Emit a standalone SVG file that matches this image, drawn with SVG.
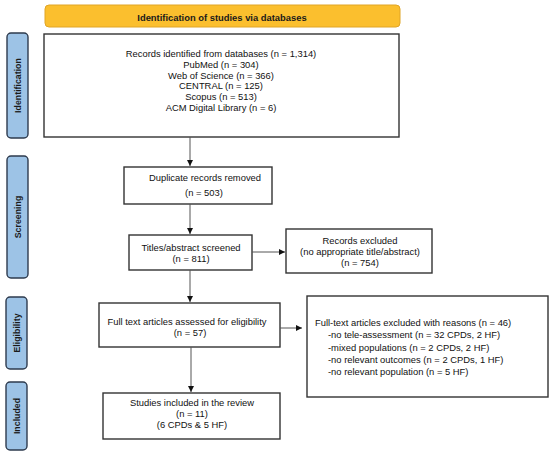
<svg xmlns="http://www.w3.org/2000/svg" width="550" height="455" viewBox="0 0 550 455">
<defs>
<marker id="ah" viewBox="0 0 10 10" refX="10" refY="5" markerWidth="6" markerHeight="6" markerUnits="userSpaceOnUse" orient="auto">
<path d="M0,0 L10,5 L0,10 z" fill="#111"/>
</marker>
<style>
.box{fill:#fff;stroke:#333;stroke-width:1.4}
.side{fill:#9dc3e6;stroke:#2e3b4e;stroke-width:1.4}
.t{font-family:"Liberation Sans",Arial,sans-serif;font-size:9.4px;fill:#111}
.c{text-anchor:middle}
.b{font-weight:bold;fill:#1a1a1a}
.s{font-size:8.8px}
.ln{stroke:#555;stroke-width:1;fill:none;marker-end:url(#ah)}
</style>
</defs>
<rect width="550" height="455" fill="#fff"/>
<g id="banner">
<rect x="45" y="5" width="355" height="22" rx="4" fill="#fbbf2e" stroke="#e0a526" stroke-width="1"/>
<text class="t c b" x="222" y="20.5">Identification of studies via databases</text>
</g>
<g id="side-identification">
<rect class="side" x="7" y="33" width="21" height="105" rx="4"/>
<text class="t c b s" transform="translate(21,85.5) rotate(-90)">Identification</text>
</g>
<g id="side-screening">
<rect class="side" x="7" y="156" width="21" height="122" rx="4"/>
<text class="t c b s" transform="translate(21,217) rotate(-90)">Screening</text>
</g>
<g id="side-eligibility">
<rect class="side" x="6" y="297" width="21" height="72" rx="4"/>
<text class="t c b s" transform="translate(20,333) rotate(-90)">Eligibility</text>
</g>
<g id="side-included">
<rect class="side" x="6" y="382" width="21" height="68" rx="4"/>
<text class="t c b s" transform="translate(20,416) rotate(-90)">Included</text>
</g>
<g id="identified">
<rect class="box" x="44" y="34" width="355" height="103"/>
<text class="t c" x="221" y="57">Records identified from databases (n = 1,314)</text>
<text class="t c" x="221" y="67.8">PubMed (n = 304)</text>
<text class="t c" x="221" y="78.6">Web of Science (n = 366)</text>
<text class="t c" x="221" y="89.4">CENTRAL (n = 125)</text>
<text class="t c" x="221" y="100.2">Scopus (n = 513)</text>
<text class="t c" x="221" y="111">ACM Digital Library (n = 6)</text>
</g>
<g id="duplicates">
<rect class="box" x="124" y="167" width="148" height="37"/>
<text class="t c" x="205" y="181">Duplicate records removed</text>
<text class="t c" x="204" y="196">(n = 503)</text>
</g>
<g id="screened">
<rect class="box" x="129" y="235" width="123" height="35"/>
<text class="t c" x="191" y="251">Titles/abstract screened</text>
<text class="t c" x="191" y="262">(n = 811)</text>
</g>
<g id="excluded-records">
<rect class="box" x="286" y="229" width="146" height="44"/>
<text class="t c" x="360" y="244">Records excluded</text>
<text class="t c" x="360" y="255">(no appropriate title/abstract)</text>
<text class="t c" x="360" y="266">(n = 754)</text>
</g>
<g id="fulltext">
<rect class="box" x="99" y="303" width="181" height="44"/>
<text class="t c" x="187" y="325">Full text articles assessed for eligibility</text>
<text class="t c" x="190" y="336">(n = 57)</text>
</g>
<g id="excluded-fulltext">
<rect class="box" x="307" y="296" width="241" height="101"/>
<text class="t" x="315" y="326">Full-text articles excluded with reasons (n = 46)</text>
<text class="t" x="328" y="338.3">-no tele-assessment (n = 32 CPDs, 2 HF)</text>
<text class="t" x="328" y="350.6">-mixed populations (n = 2 CPDs, 2 HF)</text>
<text class="t" x="328" y="362.9">-no relevant outcomes (n = 2 CPDs, 1 HF)</text>
<text class="t" x="328" y="375.2">-no relevant population (n = 5 HF)</text>
</g>
<g id="included">
<rect class="box" x="103" y="393" width="177" height="46"/>
<text class="t c" x="192" y="406">Studies included in the review</text>
<text class="t c" x="192" y="417">(n = 11)</text>
<text class="t c" x="192" y="428">(6 CPDs &amp; 5 HF)</text>
</g>
<g id="connectors">
<line class="ln" x1="190" y1="137" x2="190" y2="166"/>
<line class="ln" x1="190" y1="204" x2="190" y2="234"/>
<line class="ln" x1="190" y1="270" x2="190" y2="302"/>
<line class="ln" x1="191" y1="347" x2="191" y2="392"/>
<line class="ln" x1="252" y1="252" x2="285" y2="252"/>
<line class="ln" x1="280" y1="328" x2="302" y2="328"/>
</g>
</svg>
